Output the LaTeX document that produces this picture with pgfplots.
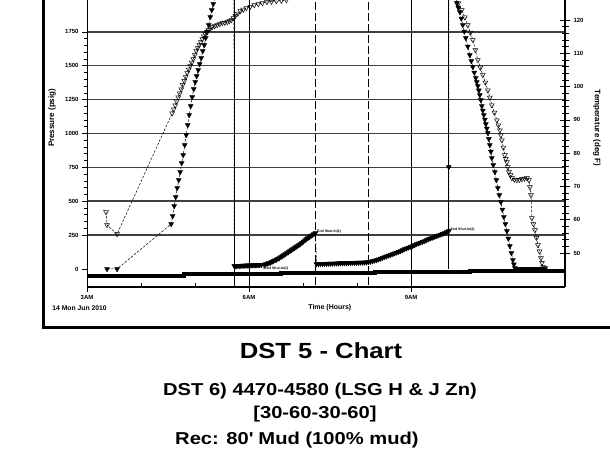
\documentclass[border=0pt]{standalone}
\usepackage{pgfplots}
\pgfplotsset{compat=1.18}
\usepackage{fontspec}
\setmainfont{Liberation Sans}
\newfontfamily\wide[FakeStretch=1.17]{Liberation Sans}
\begin{document}
\begin{tikzpicture}
\useasboundingbox (0,0) rectangle (610bp,459bp);
\fill[white] (0,0) rectangle (610bp,459bp);
\draw[line width=3bp] (43bp,460bp) -- (43bp,131bp) -- (611bp,131bp);
\begin{axis}[
  at={(87bp,172bp)}, anchor=south west,
  scale only axis, width=478bp, height=287bp,
  xmin=3, xmax=11.85, ymin=-133, ymax=1985,
  axis x line*=bottom, axis y line*=left,
  x axis line style={line width=2.4bp,-},
  y axis line style={line width=0.8bp,-},
  xtick={3,6,9}, xticklabels={3AM,6AM,9AM},
  minor x tick num=2,
  ytick={250,500,...,1750}, extra y ticks={0}, extra y tick style={grid=none},
  minor y tick num=4,
  tick align=outside,
  major tick length=5bp, minor tick length=3bp,
  minor x tick style={yshift=4.2bp},
  xmajorgrids, ymajorgrids,
  major x grid style={black, line width=0.9bp},
  major y grid style={black!75, line width=1.5bp},
  tick style={black, line width=0.6bp},
  ticklabel style={font=\fontsize{6}{7}\selectfont\bfseries},
  /pgf/number format/assume math mode=true,
  /pgf/number format/1000 sep={},
  xlabel={Time (Hours)},
  xlabel style={at={(axis description cs:0.508,0)}, anchor=center, yshift=-21bp, font=\fontsize{7}{8}\selectfont\bfseries},
  ylabel={Pressure (psig)},
  ylabel style={at={(axis description cs:-0.073,0.589)}, anchor=center, font=\fontsize{8}{9}\selectfont\bfseries},
  clip marker paths=true,
]
% bottom thick gauge line
\addplot[black, line width=4bp, const plot, forget plot] coordinates {(3,-52) (4.80,-37) (6.60,-30) (8.325,-22) (10.087,-15) (11.85,-15)};
% event lines
\addplot[black, line width=0.9bp, forget plot] coordinates {(5.727,-200) (5.727,2200)};
\addplot[black, line width=0.9bp, dash pattern=on 8bp off 3bp, forget plot] coordinates {(7.230,-200) (7.230,2200)};
\addplot[black, line width=0.9bp, dash pattern=on 8bp off 3bp, forget plot] coordinates {(8.213,-200) (8.213,2200)};
\addplot[black, line width=0.9bp, forget plot] coordinates {(9.698,0) (9.698,2200)};
% pressure
\addplot[black, line width=0.5bp, dash pattern=on 2.5bp off 1.5bp, mark=triangle*, mark size=2.8bp, mark options={solid, rotate=180, fill=black}] coordinates {
(3.371,0) (3.557,0) (4.558,332) (4.586,391) (4.614,465) (4.642,531) (4.670,598) (4.698,657) (4.725,716) (4.753,782) (4.781,841) (4.809,915) (4.837,989) (4.865,1063) (4.892,1137) (4.920,1203) (4.948,1269) (4.976,1328) (5.004,1380) (5.031,1424) (5.059,1469) (5.087,1513) (5.115,1557) (5.143,1609) (5.171,1653) (5.198,1705) (5.226,1749) (5.254,1801) (5.282,1860) (5.310,1911) (5.338,1956) (5.365,2000) (5.40,2100) (5.72,2100)
(5.727,22) (5.745,22) (5.770,23) (5.795,23) (5.820,24) (5.845,24) (5.870,25) (5.895,25) (5.920,26) (5.945,26) (5.970,27) (5.995,27) (6.020,28) (6.045,28) (6.070,28) (6.095,29) (6.120,29) (6.145,29) (6.170,30) (6.195,30) (6.228,30)
(6.284,33) (6.312,37) (6.340,41) (6.367,44) (6.395,48) (6.423,53) (6.451,59) (6.479,65) (6.506,70) (6.534,76) (6.562,81) (6.590,89) (6.618,96) (6.646,103) (6.673,111) (6.701,118) (6.729,125) (6.757,133) (6.785,140) (6.813,148) (6.840,155) (6.868,162) (6.896,170) (6.924,177) (6.952,185) (6.980,194) (7.007,203) (7.035,212) (7.063,221) (7.091,229) (7.119,236) (7.147,244) (7.174,251) (7.202,258) (7.230,266)
(7.249,37) (7.286,37) (7.323,38) (7.360,38) (7.397,39) (7.434,39) (7.471,40) (7.508,40) (7.545,41) (7.583,41) (7.620,42) (7.657,42) (7.694,43) (7.731,43) (7.768,44) (7.805,44) (7.842,45) (7.879,45) (7.917,46) (7.954,46) (7.991,47) (8.028,47) (8.065,48) (8.102,48) (8.139,49) (8.176,50) (8.213,52)
(8.250,55) (8.288,59) (8.325,63) (8.362,66) (8.399,72) (8.436,77) (8.473,83) (8.510,89) (8.547,94) (8.584,100) (8.622,105) (8.659,111) (8.696,116) (8.733,122) (8.770,127) (8.807,133) (8.844,140) (8.881,148) (8.918,153) (8.955,159) (8.993,164) (9.030,170) (9.067,177) (9.104,185) (9.141,190) (9.178,196) (9.215,201) (9.252,207) (9.289,214) (9.327,221) (9.364,227) (9.401,232) (9.438,238) (9.475,244) (9.512,249) (9.549,255) (9.586,260) (9.623,266) (9.660,273) (9.698,280)
(9.698,753) (9.700,2100) (9.80,2100)
(9.846,1963) (9.874,1930) (9.902,1897) (9.930,1849) (9.957,1801) (9.985,1753) (10.013,1705) (10.050,1642) (10.087,1579) (10.115,1535) (10.143,1491) (10.170,1450) (10.198,1410) (10.217,1380) (10.236,1351) (10.254,1318) (10.273,1284) (10.291,1247) (10.310,1203) (10.328,1170) (10.347,1137) (10.366,1103) (10.384,1070) (10.403,1037) (10.421,1004) (10.440,960) (10.458,915) (10.477,867) (10.495,819) (10.523,768) (10.551,716) (10.579,657) (10.607,598) (10.634,546) (10.662,494) (10.690,439) (10.718,384) (10.746,332) (10.774,280) (10.801,225) (10.829,170) (10.857,118) (10.885,66) (10.904,35) (10.922,7)
(10.97,0) (11.015,0) (11.06,0) (11.108,0) (11.154,0) (11.200,0) (11.247,0) (11.293,0) (11.340,0) (11.386,0) (11.432,0) (11.479,0)
};
\node[anchor=west, font=\fontsize{3.5}{4}\selectfont\bfseries, inner sep=1bp] at (axis cs:7.24,275) {End Shut-In(1)};
\node[anchor=east, font=\fontsize{3.5}{4}\selectfont\bfseries, inner sep=1bp] at (axis cs:6.75,2) {Start Shut-In(1)};
\node[anchor=west, font=\fontsize{3.5}{4}\selectfont\bfseries, inner sep=1bp] at (axis cs:9.71,288) {End Shut-In(2)};
\end{axis}
\begin{axis}[
  at={(87bp,172bp)}, anchor=south west,
  scale only axis, width=478bp, height=287bp,
  xmin=3, xmax=11.85, ymin=39.8, ymax=126,
  axis y line*=right, axis x line=none,
  y axis line style={line width=2.4bp,-},
  ytick={50,60,...,120}, minor y tick num=4,
  tick align=center, major tick length=10bp, minor tick length=7bp,
  tick style={black, line width=0.6bp},
  ticklabel style={font=\fontsize{6}{7}\selectfont\bfseries},
  /pgf/number format/assume math mode=true,
  ylabel={Temperature (deg F)},
  ylabel style={at={(axis description cs:1.067,0.554)}, anchor=center, rotate=180, font=\fontsize{8}{9}\selectfont\bfseries},
  clip marker paths=true,
]
\addplot[black, line width=0.5bp, dash pattern=on 2.5bp off 1.5bp, mark=triangle, mark size=2.8bp, mark options={solid, rotate=180, line width=0.5bp}] coordinates {
(3.353,62.3) (3.371,58.4) (3.557,55.7) (4.577,92.0) (4.605,93.2) (4.633,94.4) (4.660,95.6) (4.688,96.8) (4.716,98.0) (4.744,99.2) (4.772,100.5) (4.800,101.7) (4.827,102.9) (4.855,104.1) (4.883,105.1) (4.911,106.2) (4.939,107.2) (4.967,108.3) (4.994,109.5) (5.022,110.7) (5.050,111.6) (5.078,112.5) (5.106,113.4) (5.134,114.3) (5.161,115.1) (5.189,115.8) (5.217,116.4) (5.245,117.0) (5.282,117.4) (5.319,117.9) (5.365,118.2) (5.412,118.5) (5.458,118.8) (5.505,119.1) (5.551,119.2) (5.597,119.4) (5.634,119.7) (5.672,120.0) (5.709,120.6) (5.746,121.2) (5.792,121.9) (5.839,122.7) (5.894,123.1) (5.950,123.6) (6.024,124.0) (6.098,124.5) (6.173,124.8) (6.247,125.1) (6.330,125.4) (6.414,125.5) (6.506,125.7) (6.599,125.8) (6.692,126.0) (6.785,126.3) (6.933,127) (9.70,127)
(9.809,126.9) (9.874,125.0) (9.939,123.0) (9.995,120.8) (10.050,118.5) (10.097,116.2) (10.143,114.0) (10.190,111.0) (10.236,108.0) (10.282,105.7) (10.328,103.5) (10.375,101.2) (10.421,98.9) (10.458,96.7) (10.495,94.4) (10.542,92.2) (10.588,89.9) (10.616,88.4) (10.644,86.9) (10.662,85.4) (10.681,83.9) (10.709,81.7) (10.737,79.4) (10.755,78.3) (10.774,77.3) (10.792,75.8) (10.811,74.3) (10.839,73.4) (10.867,72.5) (10.913,72.1) (10.959,71.9) (11.006,72.0) (11.052,72.2) (11.098,72.4) (11.145,72.5) (11.182,71.9) (11.200,69.8) (11.219,67.4) (11.237,60.5) (11.265,58.7) (11.293,56.9) (11.321,54.6) (11.349,52.4) (11.377,50.5) (11.404,48.5) (11.423,47.1) (11.442,45.8) (11.479,45.5)
};
\end{axis}
\node[anchor=center, font=\fontsize{6.8}{7}\selectfont\bfseries] at (79.5bp,151bp) {14 Mon Jun 2010};
\node[anchor=base, font=\wide\bfseries\fontsize{22}{26}\selectfont, inner sep=0pt] at (321bp,100bp) {DST 5 - Chart};
\node[anchor=base, font=\wide\bfseries\fontsize{17.3}{20}\selectfont, inner sep=0pt] at (320bp,63bp) {DST 6) 4470-4580 (LSG H \& J Zn)};
\node[anchor=base, font=\wide\bfseries\fontsize{17.3}{20}\selectfont, inner sep=0pt] at (315bp,40bp) {[30-60-30-60]};
\node[anchor=base west, font=\wide\bfseries\fontsize{17.3}{20}\selectfont, inner sep=0pt] at (175bp,15bp) {Rec: 80\textquotesingle{} Mud (100\% mud)};
\end{tikzpicture}
\end{document}
